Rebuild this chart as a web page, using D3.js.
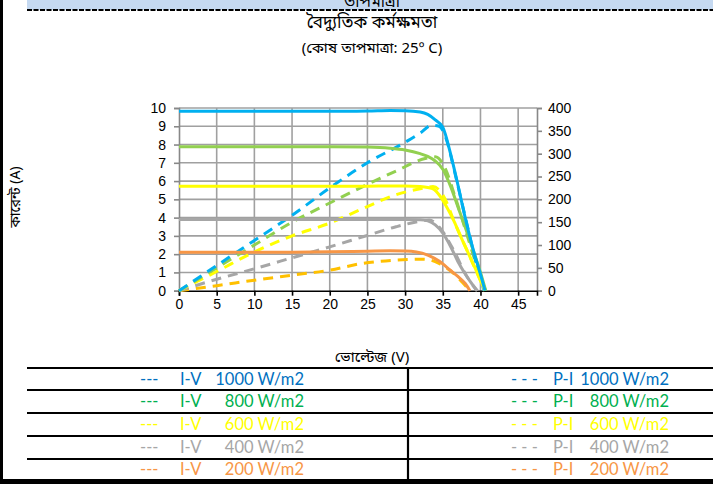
<!DOCTYPE html>
<html><head><meta charset="utf-8">
<script src="https://cdn.jsdelivr.net/npm/d3@7"></script>
<style>
html,body{margin:0;padding:0;background:#fff;overflow:hidden}
svg{display:block}
</style></head>
<body>
<script>
// ---- data ----
const irradiances = ["1000 W/m2","800 W/m2","600 W/m2","400 W/m2","200 W/m2"];
const xTicks = [0,5,10,15,20,25,30,35,40,45];
const yLeftTicks = [0,1,2,3,4,5,6,7,8,9,10];
const yRightTicks = [0,50,100,150,200,250,300,350,400];

// I-V curves (voltage V, current A)
const ivV1000 = [0,5,10,15,20,25,28,30,32,33,34,35,36,37,38,39,40,40.6];
const ivI1000 = [9.82,9.82,9.82,9.82,9.82,9.83,9.86,9.85,9.78,9.65,9.35,8.95,7.55,5.8,3.95,2.3,0.9,0];
const ivV800 = [0,5,10,15,20,25,28,30,32,33,34,35,36,37,38,39,40,40.7];
const ivI800 = [7.88,7.88,7.88,7.88,7.88,7.86,7.8,7.7,7.5,7.35,7.1,6.65,5.75,4.6,3.45,2.25,1.0,0];
const ivV600 = [0,5,10,15,20,25,28,30,32,33,33.8,34.5,35.5,36.5,37.5,38.5,39.5,40.6];
const ivI600 = [5.72,5.72,5.72,5.72,5.72,5.72,5.73,5.73,5.7,5.65,5.55,5.25,4.6,3.8,2.85,1.95,1.05,0];
const ivV400 = [0,5,10,15,20,25,30,32,33,34,35,36,37,38,39,39.6];
const ivI400 = [3.9,3.9,3.9,3.9,3.9,3.9,3.9,3.88,3.82,3.6,3.15,2.45,1.6,0.9,0.3,0];
const ivV200 = [0,5,10,15,20,25,28,30,31.5,33,34.5,36,37,38,38.6];
const ivI200 = [2.1,2.1,2.1,2.11,2.13,2.16,2.18,2.17,2.12,1.95,1.62,1.12,0.78,0.38,0];

// power curves (voltage V, power W)
const pvV1000 = [0,5,10,15,20,25,30,32,33.5,34.5,35.5,36.5,37.5,38.5,39.5,40.5];
const pvP1000 = [0,55,110,165,225,280,325,345,362,360,330,265,195,125,55,0];
const pvV800 = [0,5,10,15,20,24.4,28.8,32.8,34,35.2,36.7,38.5,40.2,40.7];
const pvP800 = [0,50,100,150,192,228,262,290,293,272,202,107,20,0];
const pvV600 = [0,5,10,15,20,24.4,28.8,32.5,33.7,35,36.7,38.5,39.5,40.6];
const pvP600 = [0,42,85,120,148,180,210,225,228,210,144,78,40,0];
const pvV400 = [0,5,10,15,20,24.4,28.8,32.3,33.2,34.5,36.3,38.1,39.5];
const pvP400 = [0,25,48,72,96,118,140,153,155,140,93,34,0];
const pvV200 = [0,5,10,15,20,24.4,28.8,32.5,34.5,36.7,38.1,38.6];
const pvP200 = [0,11,23,34,45,60,67,69,60,34,9,0];

const ivSeries = [
  {v:ivV200,y:ivI200,c:"#F79646"},
  {v:ivV400,y:ivI400,c:"#A6A6A6"},
  {v:ivV600,y:ivI600,c:"#FFFF00"},
  {v:ivV800,y:ivI800,c:"#92D050"},
  {v:ivV1000,y:ivI1000,c:"#00B0F0"}
];
const pvSeries = [
  {v:pvV200,y:pvP200,c:"#FFC000"},
  {v:pvV400,y:pvP400,c:"#A6A6A6"},
  {v:pvV600,y:pvP600,c:"#FFFF00"},
  {v:pvV800,y:pvP800,c:"#92D050"},
  {v:pvV1000,y:pvP1000,c:"#00B0F0"}
];
const legendColors = ["#0070C0","#00B050","#FFFF00","#A6A6A6","#F79646"];

// ---- drawing ----
const W = 713, H = 484;
const svg = d3.select("body").append("svg").attr("width",W).attr("height",H);
const bn = "'Noto Sans Bengali','Noto Sans',sans-serif";

// top band
svg.append("rect").attr("x",27).attr("y",0).attr("width",W-27).attr("height",10).attr("fill","#C5D9F1");
svg.append("text").attr("x",372).attr("y",7).attr("text-anchor","middle")
  .attr("font-family",bn).attr("font-size",16).attr("fill","#000").text("তাপমাত্রা");
svg.append("line").attr("x1",27).attr("x2",W).attr("y1",10).attr("y2",10)
  .attr("stroke","#000").attr("stroke-width",2).attr("stroke-dasharray","5,1.5");

// titles
svg.append("text").attr("x",372).attr("y",28).attr("text-anchor","middle")
  .attr("font-family",bn).attr("font-size",17).text("বৈদ্যুতিক কর্মক্ষমতা");
svg.append("text").attr("x",372).attr("y",53).attr("text-anchor","middle")
  .attr("font-family",bn).attr("font-size",15).text("(কোষ তাপমাত্রা: 25º C)");

// scales
const x = d3.scaleLinear().domain([0,47.5]).range([179,537]);
const yL = d3.scaleLinear().domain([0,10]).range([290.7,108]);
const yR = d3.scaleLinear().domain([0,400]).range([290.7,108]);

// grid
const g = svg.append("g");
g.selectAll("line.vg").data(xTicks.slice(1)).join("line")
  .attr("x1",d=>x(d)).attr("x2",d=>x(d)).attr("y1",yL(0)).attr("y2",yL(10))
  .attr("stroke","#A0A0A0").attr("stroke-width",1.6);
g.selectAll("line.hg").data(yLeftTicks.slice(1)).join("line")
  .attr("x1",x(0)).attr("x2",x(47.5)).attr("y1",d=>yL(d)).attr("y2",d=>yL(d))
  .attr("stroke","#A0A0A0").attr("stroke-width",1.6);

// axes
const axL = svg.append("g").attr("transform",`translate(${x(0)},0)`)
  .call(d3.axisLeft(yL).tickValues(yLeftTicks).tickSize(5).tickPadding(8));
const axR = svg.append("g").attr("transform",`translate(${x(47.5)},0)`)
  .call(d3.axisRight(yR).tickValues(yRightTicks).tickSize(5).tickPadding(6));
const axB = svg.append("g").attr("transform",`translate(0,${yL(0)})`)
  .call(d3.axisBottom(x).tickValues(xTicks).tickSize(5).tickPadding(3));
[axL,axR].forEach(a=>{
  a.selectAll("path,line").attr("stroke","#888").attr("stroke-width",1.6);
});
axB.selectAll("path,line").attr("stroke","#000").attr("stroke-width",1.6);
[axL,axR,axB].forEach(a=>{
  a.selectAll("text").attr("font-family","'Liberation Sans',Arial,sans-serif").attr("font-size",14).attr("fill","#000");
});

// lines
const lineL = d3.line().curve(d3.curveMonotoneX);
pvSeries.forEach(s=>{
  const pts = s.v.map((v,i)=>[x(v),yR(s.y[i])]);
  svg.append("path").attr("d",lineL(pts)).attr("fill","none").attr("stroke",s.c)
    .attr("stroke-width",3).attr("stroke-dasharray","10,7");
});
ivSeries.forEach(s=>{
  const pts = s.v.map((v,i)=>[x(v),yL(s.y[i])]);
  svg.append("path").attr("d",lineL(pts)).attr("fill","none").attr("stroke",s.c)
    .attr("stroke-width",3);
});

// axis titles
svg.append("text").attr("transform","translate(20,197) rotate(-90)").attr("text-anchor","middle")
  .attr("font-family",bn).attr("font-size",14).text("কারেন্ট (A)");
svg.append("text").attr("x",372).attr("y",362).attr("text-anchor","middle")
  .attr("font-family",bn).attr("font-size",15).text("ভোল্টেজ (V)");

// legend table
const rowLines = [368,390,413,436,459];
rowLines.forEach(yy=>{
  svg.append("line").attr("x1",27).attr("x2",W).attr("y1",yy).attr("y2",yy)
    .attr("stroke","#000").attr("stroke-width",2.2);
});
svg.append("line").attr("x1",408).attr("x2",408).attr("y1",368).attr("y2",480)
  .attr("stroke","#000").attr("stroke-width",2.2);
const rowCenters = [379,401.5,424.5,447.5,469.5];
const lf = "Lato,'Open Sans',sans-serif";
irradiances.forEach((lab,i)=>{
  const c = legendColors[i], yy = rowCenters[i];
  const t = (xx,anchor,txt)=>svg.append("text").attr("x",xx).attr("y",yy).attr("dy","0.36em")
    .attr("text-anchor",anchor).attr("font-family",lf).attr("font-size",16.5).attr("fill",c).text(txt);
  t(140,"start","---");
  t(180,"start","I-V");
  t(304,"end",lab);
  t(511,"start","- - -");
  t(553,"start","P-I");
  t(669,"end",lab);
});

// frame borders
svg.append("rect").attr("x",0).attr("y",0).attr("width",3).attr("height",H).attr("fill","#000");
svg.append("rect").attr("x",0).attr("y",479).attr("width",W).attr("height",5).attr("fill","#000");
</script>
</body></html>
